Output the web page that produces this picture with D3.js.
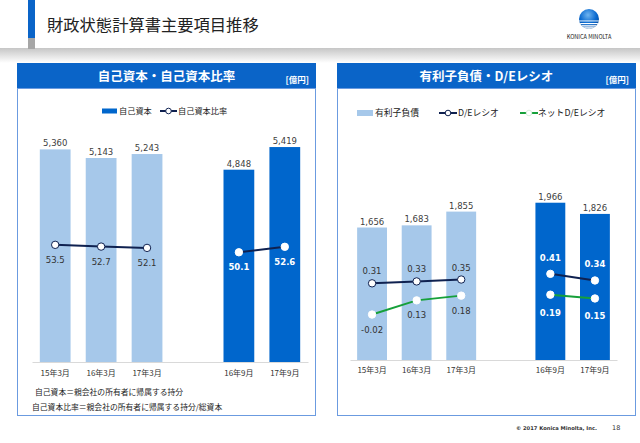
<!DOCTYPE html>
<html lang="ja">
<head>
<meta charset="utf-8">
<script src="https://cdn.jsdelivr.net/npm/d3@7"></script>
<style>
  body { margin: 0; background: #fff; }
  text { font-family: "Noto Sans CJK JP", sans-serif; }
  .num { font-family: "DejaVu Sans", sans-serif; }
</style>
</head>
<body>
<div id="slide"></div>
<script>
// values
const periods = ["15年3月", "16年3月", "17年3月", "16年9月", "17年9月"];
const interim = [false, false, false, true, true]; // 9月 figures drawn dark
const slots = ["15年3月", "16年3月", "17年3月", "gap", "16年9月", "17年9月"];

const equity = [5360, 5143, 5243, 4848, 5419];
const equityRatio = [53.5, 52.7, 52.1, 50.1, 52.6];

const debt = [1656, 1683, 1855, 1966, 1826];
const deRatio = [0.31, 0.33, 0.35, 0.41, 0.34];
const netDeRatio = [-0.02, 0.13, 0.18, 0.19, 0.15];

const notes = [
  "自己資本＝親会社の所有者に帰属する持分",
  "自己資本比率＝親会社の所有者に帰属する持分/総資本",
];

const blue = "#0a64c8";
const dark = "#0066cc";
const light = "#a6c8ea";
const navy = "#0f2150";
const green = "#16a03a";

const width = 640;
const height = 443;

const svg = d3
  .select("#slide")
  .append("svg")
  .attr("width", width)
  .attr("height", height);

// ---- slide header
const defs = svg.append("defs");
const shade = defs
  .append("linearGradient")
  .attr("id", "shade")
  .attr("x1", 0).attr("x2", 0).attr("y1", 0).attr("y2", 1);
shade.append("stop").attr("offset", "0%").attr("stop-color", "#c6c6c6");
shade.append("stop").attr("offset", "100%").attr("stop-color", "#ffffff");

const globe = defs
  .append("radialGradient")
  .attr("id", "globe")
  .attr("cx", "45%").attr("cy", "30%").attr("r", "70%");
globe.append("stop").attr("offset", "0%").attr("stop-color", "#6fb4f0");
globe.append("stop").attr("offset", "60%").attr("stop-color", "#0a6ad0");
globe.append("stop").attr("offset", "100%").attr("stop-color", "#034a9e");

svg.append("rect").attr("x", 0).attr("y", 48).attr("width", width).attr("height", 15).attr("fill", "url(#shade)");
svg.append("rect").attr("x", 28).attr("y", 0).attr("width", 7).attr("height", 38).attr("fill", blue);
svg.append("rect").attr("x", 28).attr("y", 38).attr("width", 7).attr("height", 11).attr("fill", "#a6a6a6");
svg.append("text")
  .attr("x", 47).attr("y", 31)
  .attr("font-size", 16.3)
  .attr("fill", "#222")
  .text("財政状態計算書主要項目推移");

// logo
defs.append("clipPath").attr("id", "globeClip")
  .append("circle").attr("cx", 589).attr("cy", 19).attr("r", 10);
svg.append("circle").attr("cx", 589).attr("cy", 19).attr("r", 10).attr("fill", "url(#globe)");
const stripes = svg.append("g").attr("clip-path", "url(#globeClip)");
[20.5, 23, 25.2, 27.2].forEach((y, i) => {
  stripes.append("rect").attr("x", 578).attr("y", y).attr("width", 22).attr("height", 0.9 + i * 0.25).attr("fill", "#fff");
});
svg.append("text")
  .attr("x", 589).attr("y", 39)
  .attr("text-anchor", "middle")
  .attr("font-size", 5.6)
  .attr("fill", "#222")
  .text("KONICA MINOLTA");

// footer
svg.append("text")
  .attr("class", "num")
  .attr("x", 597).attr("y", 430)
  .attr("text-anchor", "end")
  .attr("font-size", 5.2)
  .attr("font-weight", "bold")
  .attr("fill", "#333")
  .text("© 2017 Konica Minolta, Inc.");
svg.append("text")
  .attr("class", "num")
  .attr("x", 612).attr("y", 430)
  .attr("font-size", 6.5)
  .attr("fill", "#333")
  .text("18");

function panel(x, w, title) {
  svg.append("rect").attr("x", x + 0.5).attr("y", 88.5).attr("width", w - 1).attr("height", 327)
    .attr("fill", "none").attr("stroke", "#6b9be0");
  svg.append("rect").attr("x", x).attr("y", 63).attr("width", w).attr("height", 25).attr("fill", blue);
  svg.append("text")
    .attr("x", x + w / 2).attr("y", 81)
    .attr("text-anchor", "middle")
    .attr("font-size", 12.5)
    .attr("font-weight", "bold")
    .attr("fill", "#fff")
    .text(title);
  svg.append("text")
    .attr("x", x + w - 7).attr("y", 83)
    .attr("text-anchor", "end")
    .attr("font-size", 8.5)
    .attr("font-weight", "bold")
    .attr("fill", "#fff")
    .text("[億円]");
}

function axis(x, y0, pad) {
  const g = svg.append("g")
    .attr("transform", `translate(0,${y0})`)
    .call(d3.axisBottom(x).tickValues(periods).tickSize(0).tickPadding(pad));
  g.select(".domain").attr("stroke", "#d9d9d9");
  g.selectAll("text")
    .attr("font-family", "Noto Sans CJK JP")
    .attr("font-size", 8)
    .attr("fill", "#333");
}

function bars(x, y, values) {
  svg.append("g")
    .selectAll("rect")
    .data(periods)
    .join("rect")
    .attr("x", (d) => x(d))
    .attr("y", (d, i) => y(values[i]))
    .attr("width", x.bandwidth())
    .attr("height", (d, i) => y(0) - y(values[i]))
    .attr("fill", (d, i) => (interim[i] ? dark : light));

  svg.append("g")
    .selectAll("text")
    .data(periods)
    .join("text")
    .attr("class", "num")
    .attr("x", (d) => x(d) + x.bandwidth() / 2)
    .attr("y", (d, i) => y(values[i]) - 3)
    .attr("text-anchor", "middle")
    .attr("font-size", 8.5)
    .attr("fill", "#404040")
    .text((d, i) => d3.format(",")(values[i]));
}

// draws one ratio series, split between the March and September groups
function ratio(x, r, values, color, stroke, offLight, offDark, digits) {
  const cx = (i) => x(periods[i]) + x.bandwidth() / 2;
  const line = d3.line().x(cx).y((i) => r(values[i]));
  const groups = d3.groups(d3.range(periods.length), (i) => interim[i]);

  svg.append("g")
    .selectAll("path")
    .data(groups)
    .join("path")
    .attr("d", (g) => line(g[1]))
    .attr("fill", "none")
    .attr("stroke", color)
    .attr("stroke-width", 2);

  svg.append("g")
    .selectAll("circle")
    .data(d3.range(periods.length))
    .join("circle")
    .attr("cx", cx)
    .attr("cy", (i) => r(values[i]))
    .attr("r", 3.7)
    .attr("fill", "#fff")
    .attr("stroke", (i) => (interim[i] ? "#fff" : stroke))
    .attr("stroke-width", 1);

  svg.append("g")
    .selectAll("text")
    .data(d3.range(periods.length))
    .join("text")
    .attr("class", "num")
    .attr("x", cx)
    .attr("y", (i) => r(values[i]) + (interim[i] ? offDark : offLight))
    .attr("text-anchor", "middle")
    .attr("font-size", 8.5)
    .attr("font-weight", (i) => (interim[i] ? "bold" : "normal"))
    .attr("fill", (i) => (interim[i] ? "#fff" : "#333"))
    .text((i) => values[i].toFixed(digits));
}

// ---- left: 自己資本・自己資本比率
panel(17, 299, "自己資本・自己資本比率");

const x1 = d3.scaleBand().domain(slots).range([32, 308]).paddingInner(0.33).paddingOuter(0.17);
const y1 = d3.scaleLinear().domain([0, 6000]).range([362, 124]);
const r1 = d3.scaleLinear().domain([0, 100]).range([362, 143]);

bars(x1, y1, equity);
axis(x1, 362, 8);
ratio(x1, r1, equityRatio, navy, navy, 18, 18, 1);

// legend
svg.append("rect").attr("x", 102).attr("y", 108.5).attr("width", 15).attr("height", 5).attr("fill", dark);
svg.append("text").attr("x", 119).attr("y", 114).attr("font-size", 8.2).attr("fill", "#222").text("自己資本");
svg.append("line").attr("x1", 160).attr("x2", 177).attr("y1", 111).attr("y2", 111).attr("stroke", navy).attr("stroke-width", 2);
svg.append("circle").attr("cx", 168.5).attr("cy", 111).attr("r", 2.8).attr("fill", "#fff").attr("stroke", navy);
svg.append("text").attr("x", 178).attr("y", 114).attr("font-size", 8.2).attr("fill", "#222").text("自己資本比率");

svg.append("g")
  .selectAll("text")
  .data(notes)
  .join("text")
  .attr("x", (d, i) => (i === 0 ? 35 : 32))
  .attr("y", (d, i) => 394.5 + i * 15)
  .attr("font-size", 7.8)
  .attr("fill", "#222")
  .text((d) => d);

// ---- right: 有利子負債・D/Eレシオ
panel(337, 299, "有利子負債・D/Eレシオ");

const x2 = d3.scaleBand().domain(slots).range([350, 617]).paddingInner(0.33).paddingOuter(0.16);
const y2 = d3.scaleLinear().domain([0, 2000]).range([360, 200]);
const r2 = d3.scaleLinear().domain([-0.5, 1.0]).range([360, 218]);

bars(x2, y2, debt);
axis(x2, 360, 7);
ratio(x2, r2, netDeRatio, green, "#fff", 18, 21, 2);
ratio(x2, r2, deRatio, navy, navy, -9, -13, 2);

// legend
svg.append("rect").attr("x", 357).attr("y", 110).attr("width", 16).attr("height", 6).attr("fill", light);
svg.append("text").attr("x", 375).attr("y", 116).attr("font-size", 8.8).attr("fill", "#222").text("有利子負債");
svg.append("line").attr("x1", 439).attr("x2", 457).attr("y1", 113).attr("y2", 113).attr("stroke", navy).attr("stroke-width", 2);
svg.append("circle").attr("cx", 448).attr("cy", 113).attr("r", 2.8).attr("fill", "#fff").attr("stroke", navy);
svg.append("text").attr("x", 458).attr("y", 116).attr("font-size", 8.8).attr("fill", "#222").text("D/Eレシオ");
svg.append("line").attr("x1", 520).attr("x2", 538).attr("y1", 113).attr("y2", 113).attr("stroke", green).attr("stroke-width", 2);
svg.append("circle").attr("cx", 529).attr("cy", 113).attr("r", 2.8).attr("fill", "#fff").attr("stroke", "#d8f0dc");
svg.append("text").attr("x", 538).attr("y", 116).attr("font-size", 8.8).attr("fill", "#222").text("ネットD/Eレシオ");
</script>
</body>
</html>
